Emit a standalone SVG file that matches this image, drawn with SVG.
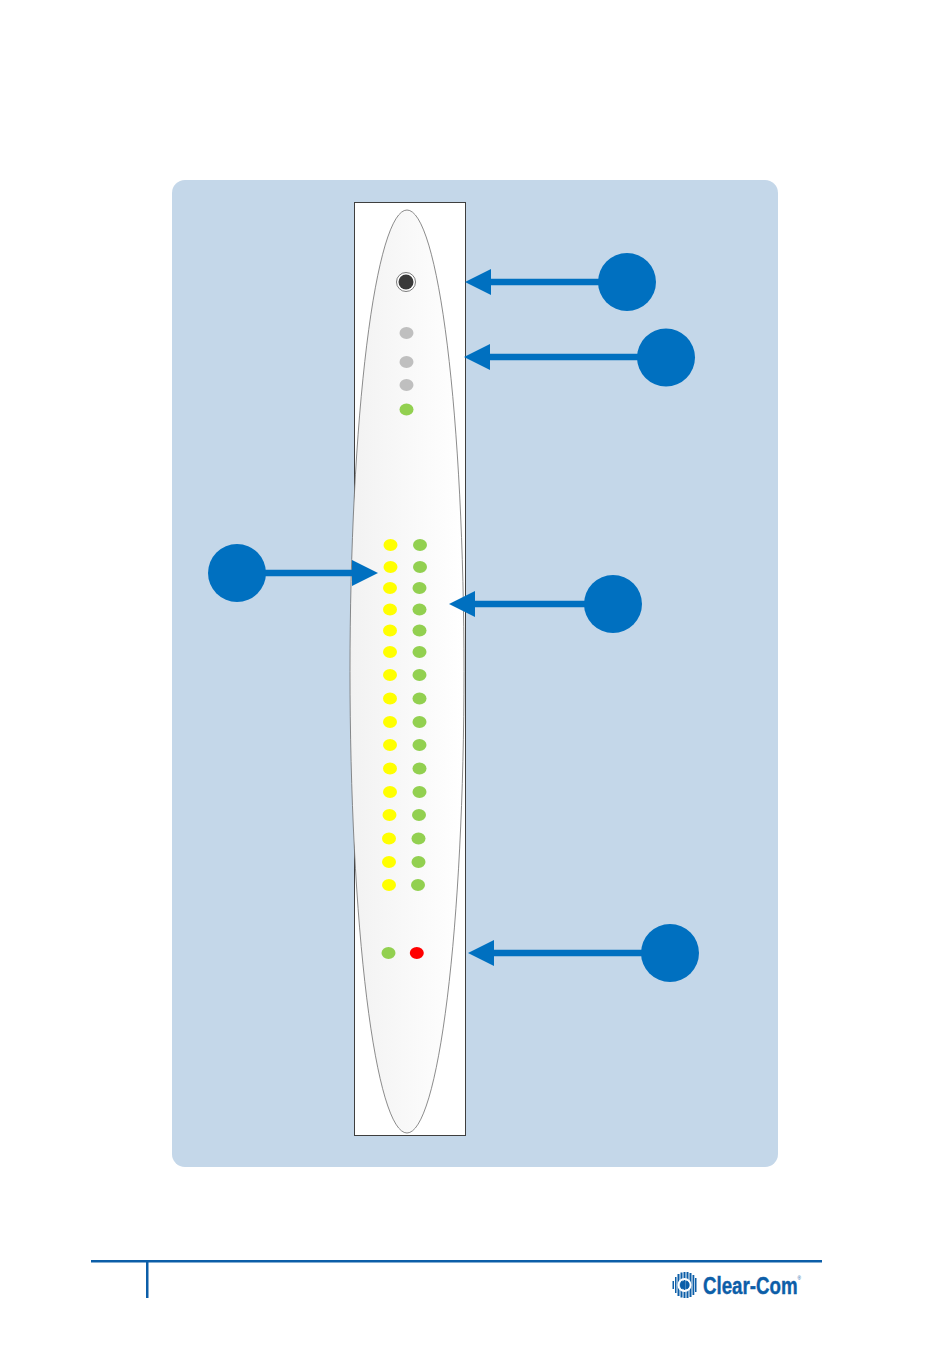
<svg xmlns="http://www.w3.org/2000/svg" width="950" height="1359" viewBox="0 0 950 1359">
<style>
.y{fill:#ffff00}.g{fill:#92d050}.s{fill:#bfbfbf}.r{fill:#ff0000}
.c{fill:#0070c0}
.l{stroke:#0070c0;stroke-width:6.500;fill:none}
.b{fill:#0c5ea8}
</style>
<defs>
<linearGradient id="sh" x1="0" x2="1" y1="0" y2="0"><stop offset="0" stop-color="#f2f2f2"/><stop offset="1" stop-color="#ffffff"/></linearGradient>
<marker id="ah" markerUnits="userSpaceOnUse" markerWidth="27" markerHeight="26" refX="1" refY="13" orient="auto"><path d="M0 0L26 13L0 26Z" fill="#0070c0"/></marker>
</defs>
<rect width="950" height="1359" fill="#ffffff"/>
<rect id="panel" x="172" y="180" width="606" height="987" rx="13" fill="#c4d7e9"/>
<g id="unit">
<rect x="354.500" y="202.500" width="111" height="933" fill="#ffffff" stroke="#3f3f3f" stroke-width="1"/>
<ellipse cx="407" cy="671.500" rx="57" ry="461.500" fill="url(#sh)" stroke="#6f6f6f" stroke-width="0.800"/>
</g>
<g id="socket"><circle cx="406" cy="282" r="9.500" fill="#ffffff" stroke="#595959" stroke-width="0.800"/><circle cx="406" cy="282" r="7.500" fill="#3a3a3a"/></g>
<g id="top-leds">
<ellipse class="s" cx="406.500" cy="333" rx="7" ry="6"/><ellipse class="s" cx="406.500" cy="362" rx="7" ry="6"/><ellipse class="s" cx="406.500" cy="385" rx="7" ry="6"/><ellipse class="g" cx="406.500" cy="409.500" rx="7" ry="6"/>
</g>
<g id="yellow-leds">
<ellipse class="y" cx="390.500" cy="545" rx="7" ry="6"/><ellipse class="y" cx="390.500" cy="567" rx="7" ry="6"/><ellipse class="y" cx="390" cy="588" rx="7" ry="6"/><ellipse class="y" cx="390" cy="609.500" rx="7" ry="6"/><ellipse class="y" cx="390" cy="630.500" rx="7" ry="6"/><ellipse class="y" cx="390" cy="652" rx="7" ry="6"/><ellipse class="y" cx="390" cy="675" rx="7" ry="6"/><ellipse class="y" cx="390" cy="698.500" rx="7" ry="6"/><ellipse class="y" cx="390" cy="722" rx="7" ry="6"/><ellipse class="y" cx="390" cy="745" rx="7" ry="6"/><ellipse class="y" cx="390" cy="768.500" rx="7" ry="6"/><ellipse class="y" cx="390" cy="792" rx="7" ry="6"/><ellipse class="y" cx="389.500" cy="815" rx="7" ry="6"/><ellipse class="y" cx="389" cy="838.500" rx="7" ry="6"/><ellipse class="y" cx="389" cy="862" rx="7" ry="6"/><ellipse class="y" cx="389" cy="885" rx="7" ry="6"/>
</g>
<g id="green-leds">
<ellipse class="g" cx="420" cy="545" rx="7" ry="6"/><ellipse class="g" cx="420" cy="567" rx="7" ry="6"/><ellipse class="g" cx="419.500" cy="588" rx="7" ry="6"/><ellipse class="g" cx="419.500" cy="609.500" rx="7" ry="6"/><ellipse class="g" cx="419.500" cy="630.500" rx="7" ry="6"/><ellipse class="g" cx="419.500" cy="652" rx="7" ry="6"/><ellipse class="g" cx="419.500" cy="675" rx="7" ry="6"/><ellipse class="g" cx="419.500" cy="698.500" rx="7" ry="6"/><ellipse class="g" cx="419.500" cy="722" rx="7" ry="6"/><ellipse class="g" cx="419.500" cy="745" rx="7" ry="6"/><ellipse class="g" cx="419.500" cy="768.500" rx="7" ry="6"/><ellipse class="g" cx="419.500" cy="792" rx="7" ry="6"/><ellipse class="g" cx="419" cy="815" rx="7" ry="6"/><ellipse class="g" cx="418.500" cy="838.500" rx="7" ry="6"/><ellipse class="g" cx="418.500" cy="862" rx="7" ry="6"/><ellipse class="g" cx="418" cy="885" rx="7" ry="6"/>
</g>
<g id="bottom-leds"><ellipse class="g" cx="388.500" cy="953" rx="7" ry="6"/><ellipse class="r" cx="416.800" cy="953" rx="7" ry="6"/></g>
<g id="connectors">
<path class="l" marker-end="url(#ah)" d="M600 282H490"/>
<path class="l" marker-end="url(#ah)" d="M640 357H489"/>
<path class="l" marker-end="url(#ah)" d="M262 573H353"/>
<path class="l" marker-end="url(#ah)" d="M587 604H474"/>
<path class="l" marker-end="url(#ah)" d="M644 953H493"/>
</g>
<g id="callout-1"><circle class="c" cx="627" cy="282" r="29"/></g>
<g id="callout-2"><circle class="c" cx="666" cy="357.500" r="29"/></g>
<g id="callout-3"><circle class="c" cx="237" cy="573" r="29"/></g>
<g id="callout-4"><circle class="c" cx="613" cy="604" r="29"/></g>
<g id="callout-5"><circle class="c" cx="670" cy="953" r="29"/></g>
<g id="footer">
<rect class="b" x="91" y="1260" width="731" height="2.500"/>
<rect class="b" x="146" y="1260" width="2.500" height="38"/>
</g>
<g id="logo">
<g fill="#0c5ea8">
<rect x="672.500" y="1281" width="1.500" height="8"/><rect x="675" y="1277" width="1.500" height="16"/><rect x="677.500" y="1274" width="2" height="22"/><rect x="680.500" y="1272.500" width="2" height="25"/><rect x="683.500" y="1272" width="2" height="26"/><rect x="686.500" y="1272" width="2" height="26"/><rect x="689.500" y="1273" width="2" height="24"/><rect x="692.500" y="1275" width="1.800" height="20"/><rect x="695" y="1278" width="1.500" height="14"/>
</g>
<circle cx="684.500" cy="1285" r="6" fill="none" stroke="#ffffff" stroke-width="2"/>
<path d="M684 1281a4 4 0 0 0 0 8z" fill="#0c5ea8"/><path d="M685.500 1281a4 4 0 0 1 0 8z" fill="#0c5ea8"/>
<text x="703" y="1294" font-family="'Liberation Sans',sans-serif" font-weight="700" font-size="24" fill="#0c5ea8" stroke="#0c5ea8" stroke-width="0.400" textLength="98" lengthAdjust="spacingAndGlyphs">Clear-Com<tspan font-size="6" font-weight="400" stroke="none" dy="-14">®</tspan></text>
</g>
</svg>
